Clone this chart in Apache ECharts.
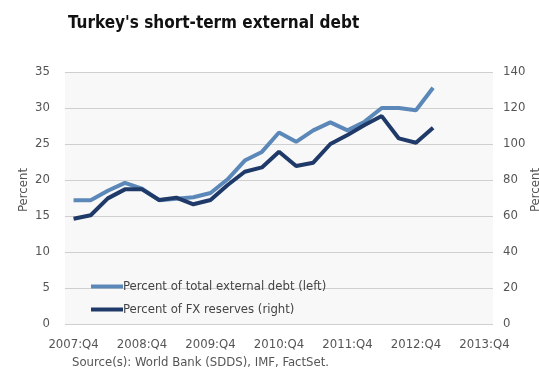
<!DOCTYPE html>
<html>
<head>
<meta charset="utf-8">
<title>Turkey's short-term external debt</title>
<script src="https://cdn.jsdelivr.net/npm/echarts@6/dist/echarts.min.js"></script>
<style>
  html, body { margin: 0; padding: 0; background: #ffffff; }
  #chart { width: 539px; height: 381px; }
</style>
</head>
<body>
<div id="chart"></div>
<script>
// Quarterly categories, 2007:Q4 through 2013:Q4
const quarters = [
  '2007:Q4',
  '2008:Q1', '2008:Q2', '2008:Q3', '2008:Q4',
  '2009:Q1', '2009:Q2', '2009:Q3', '2009:Q4',
  '2010:Q1', '2010:Q2', '2010:Q3', '2010:Q4',
  '2011:Q1', '2011:Q2', '2011:Q3', '2011:Q4',
  '2012:Q1', '2012:Q2', '2012:Q3', '2012:Q4',
  '2013:Q1', '2013:Q2', '2013:Q3', '2013:Q4'
];

// Short-term external debt, percent of total external debt (left axis)
const pctTotalDebt = [
  17.2, 17.2, 18.5, 19.6, 18.8, 17.2, 17.4, 17.6, 18.2, 20.1, 22.7,
  23.9, 26.6, 25.3, 26.9, 28.0, 26.9, 28.1, 30.0, 30.0, 29.7, 32.8
];

// Short-term external debt, percent of FX reserves (right axis)
const pctFxReserves = [
  58.5, 60.4, 69.8, 74.8, 74.8, 68.9, 70.2, 66.5, 68.9, 77.2, 84.6,
  87.0, 95.7, 87.8, 89.6, 100.0, 105.0, 110.5, 115.5, 103.1, 100.7, 109.0
];

const leftTicks = { min: 0, max: 35, interval: 5 };
const rightTicks = { min: 0, max: 140, interval: 20 };

const seriesNames = [
  'Percent of total external debt (left)',
  'Percent of FX reserves (right)'
];

const FONT = '"Liberation Sans Narrow", "DejaVu Sans Condensed", "Liberation Sans", sans-serif';
const LIGHT = '#5b88b8';
const DARK = '#1f3a69';
const LABEL = '#555555';

const chart = echarts.init(document.getElementById('chart'), null, { renderer: 'canvas' });

// Vertical "Percent" unit label beside an axis
function unitLabel(x, y) {
  return {
    type: 'text',
    x: x,
    y: y,
    rotation: Math.PI / 2,
    style: {
      text: 'Percent',
      fill: LABEL,
      font: '13px ' + FONT,
      align: 'center',
      verticalAlign: 'middle'
    }
  };
}

chart.setOption({
  animation: false,
  textStyle: { fontFamily: FONT },
  title: {
    text: "Turkey's short-term external debt",
    left: 63,
    top: 10,
    textStyle: { fontFamily: FONT, fontSize: 17, fontWeight: 'bold', color: '#111111' }
  },
  grid: {
    left: 65, right: 46, top: 72, bottom: 57,
    outerBoundsMode: 'none',
    containLabel: false,
    show: true, backgroundColor: '#f8f8f8', borderWidth: 0
  },
  legend: {
    orient: 'vertical',
    left: 86,
    top: 275,
    itemWidth: 32,
    itemHeight: 4,
    itemGap: 10,
    icon: 'rect',
    textStyle: { fontFamily: FONT, fontSize: 13, color: '#444444', padding: [0, 0, 0, -5] },
    data: seriesNames
  },
  xAxis: {
    type: 'category',
    data: quarters,
    boundaryGap: true,
    axisLine: { show: false },
    axisTick: { show: false },
    axisLabel: {
      interval: (index) => index % 4 === 0,
      margin: 14,
      color: LABEL,
      fontFamily: FONT,
      fontSize: 13
    },
    splitLine: { show: false }
  },
  yAxis: [
    {
      type: 'value',
      position: 'left',
      min: leftTicks.min, max: leftTicks.max, interval: leftTicks.interval,
      axisLine: { show: false },
      axisTick: { show: false },
      axisLabel: { color: LABEL, fontFamily: FONT, fontSize: 13, margin: 15 },
      splitLine: { show: true, lineStyle: { color: '#cfcfcf', width: 1 } }
    },
    {
      type: 'value',
      position: 'right',
      min: rightTicks.min, max: rightTicks.max, interval: rightTicks.interval,
      axisLine: { show: false },
      axisTick: { show: false },
      axisLabel: { color: LABEL, fontFamily: FONT, fontSize: 13, margin: 10 },
      splitLine: { show: false }
    }
  ],
  series: [
    {
      name: seriesNames[0],
      type: 'line',
      yAxisIndex: 0,
      data: pctTotalDebt,
      showSymbol: false,
      symbol: 'none',
      color: LIGHT,
      lineStyle: { color: LIGHT, width: 4 }
    },
    {
      name: seriesNames[1],
      type: 'line',
      yAxisIndex: 1,
      data: pctFxReserves,
      showSymbol: false,
      symbol: 'none',
      color: DARK,
      lineStyle: { color: DARK, width: 4 }
    }
  ],
  graphic: [
    unitLabel(24, 190),
    unitLabel(536, 190),
    {
      type: 'text',
      left: 72,
      top: 356,
      style: {
        text: 'Source(s): World Bank (SDDS), IMF, FactSet.',
        fill: LABEL,
        font: '13px ' + FONT
      }
    }
  ]
});
</script>
</body>
</html>
